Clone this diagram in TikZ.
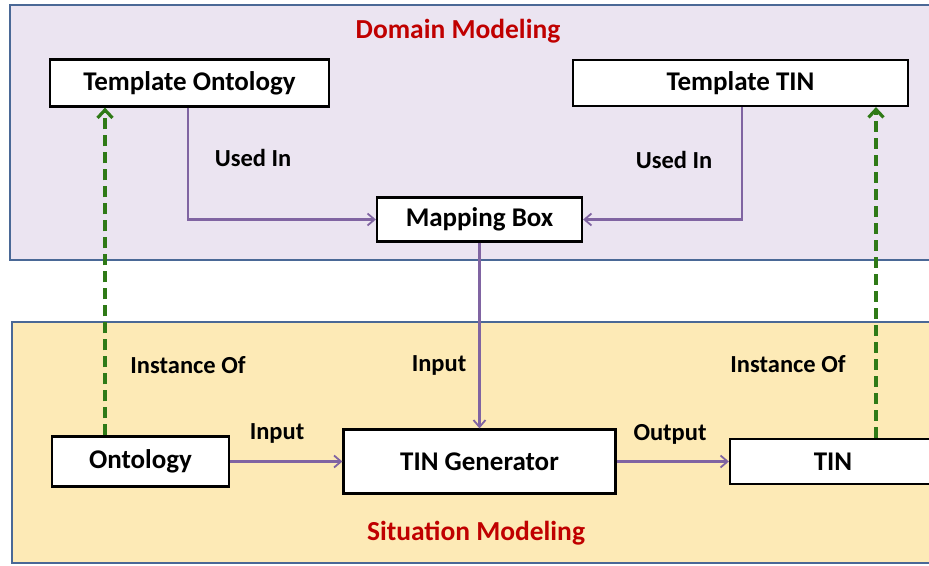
\documentclass[tikz,border=0pt]{standalone}
\usepackage{fontspec}
\setmainfont{Carlito}
\usetikzlibrary{arrows.meta}
\definecolor{domainfill}{HTML}{EBE4F1}
\definecolor{situationfill}{HTML}{FDEAB6}
\definecolor{regionedge}{HTML}{4A6896}
\definecolor{titlered}{HTML}{C00000}
\definecolor{flow}{HTML}{8064A2}
\definecolor{instgreen}{HTML}{2F7A17}
\tikzset{
  region/.style={draw=regionedge, line width=1.8pt},
  block/.style={draw=black, fill=white, line width=2.2pt, inner sep=0pt,
    font=\bfseries\fontsize{27}{30}\selectfont},
  title/.style={text=titlered, font=\bfseries\fontsize{27.5}{30}\selectfont},
  lbl/.style={font=\bfseries\fontsize{24.5}{28}\selectfont},
  flowarrow/.style={draw=flow, line width=2.4pt, -{Straight Barb[length=7pt,width=12pt,line width=1.8pt]}},
  instarrow/.style={draw=instgreen, line width=3.8pt, dash pattern=on 11pt off 6pt,
    -{Straight Barb[length=8pt,width=15pt,line width=3.2pt]}},
}
\begin{document}
\begin{tikzpicture}[x=1pt,y=-1pt]
\useasboundingbox (0,0) rectangle (929,565);
\begin{scope}
\clip (0,0) rectangle (929,565);
% the two modelling layers
\draw[region, fill=domainfill] (10,5) rectangle (940,260);
\draw[region, fill=situationfill] (12,322) rectangle (940,563);
\end{scope}
\node[title] (dtitle) at (458,31) {Domain Modeling};
\node[title] (stitle) at (476,533) {Situation Modeling};

% blocks
\node[block, minimum width=279pt, minimum height=47pt] (tonto) at (189.5,83) {Template Ontology};
\node[block, minimum width=335pt, minimum height=46pt] (ttin) at (740.5,83) {Template TIN};
\node[block, minimum width=205pt, minimum height=44pt] (map) at (479.5,219.5) {Mapping Box};
\node[block, minimum width=272pt, minimum height=64pt] (gen) at (479.5,461.5) {TIN Generator};
\node[block, minimum width=177pt, minimum height=50pt] (onto) at (140.5,461.5) {Ontology};
\node[block, minimum width=206pt, minimum height=45pt] (tin) at (833,461.5) {TIN};

% flows between blocks
\draw[flowarrow] (tonto.south -| 188,0) |- (map.west);
\draw[flowarrow] (ttin.south -| 742,0) |- (map.east);
\draw[flowarrow] (map.south) -- (gen.north);
\draw[flowarrow] (onto.east) -- (gen.west);
\draw[flowarrow] (gen.east) -- (tin.west);

% instance-of relations
\draw[instarrow] (onto.north -| 105,0) -- (tonto.south -| 105,0);
\draw[instarrow] (tin.north -| 876,0) -- (ttin.south -| 876,0);

% connector labels
\node[lbl] (u1) at (253,158) {Used In};
\node[lbl] (u2) at (674,160) {Used In};
\node[lbl] (i1) at (188,365) {Instance Of};
\node[lbl] (i2) at (788,364) {Instance Of};
\node[lbl] (in1) at (439,365) {Input};
\node[lbl] (in2) at (277,433) {Input};
\node[lbl] (out) at (670,434) {Output};
\end{tikzpicture}
\end{document}
